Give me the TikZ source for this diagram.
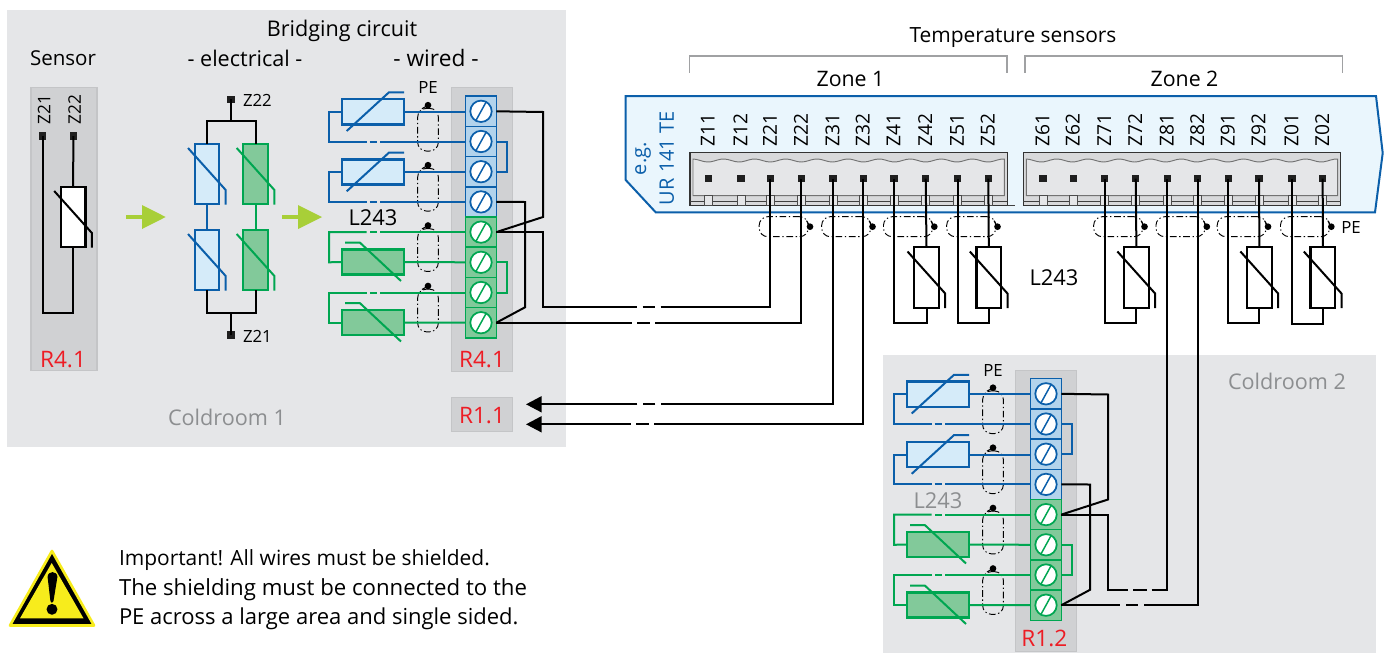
\documentclass[tikz,border=0pt]{standalone}
\usepackage{fontspec}
\setmainfont{Open Sans}
\usetikzlibrary{arrows.meta,calc}
\definecolor{roomgray}{HTML}{E5E6E8}
\definecolor{panelgray}{HTML}{D0D1D3}
\definecolor{panelline}{HTML}{C4C5C7}
\definecolor{bluewire}{HTML}{0B5FAA}
\definecolor{bluefill}{HTML}{D5EBF9}
\definecolor{blueterm}{HTML}{B2D3EC}
\definecolor{greenwire}{HTML}{00A651}
\definecolor{greenfill}{HTML}{82C99A}
\definecolor{redtext}{HTML}{ED1C24}
\definecolor{graytext}{HTML}{8C8E90}
\definecolor{arrowgreen}{HTML}{A8CF38}
\definecolor{platefill}{HTML}{EAF6FD}
\definecolor{warnyellow}{HTML}{F7EC1C}
\definecolor{connfill}{HTML}{D8D9DB}
\definecolor{bracketgray}{HTML}{A0A1A3}
\newcommand\fsA{\fontsize{16.2}{19}\selectfont}
\newcommand\fsB{\fontsize{16.4}{19}\selectfont}
\newcommand\fsZ{\fontsize{14.4}{17}\selectfont}
\newcommand\fsN{\fontsize{16.3}{19}\selectfont}
\newcommand\fsS{\fontsize{12.6}{15}\selectfont}
\newcommand\fsR{\fontsize{17}{20}\selectfont}
\tikzset{
  x=0.75pt,y=-0.75pt,
  wire/.style={line width=1.5pt,draw=black,line cap=butt,line join=miter},
  room/.style={fill=roomgray,draw=none,inner sep=0pt,outer sep=0pt},
  panel/.style={fill=panelgray,draw=panelline,line width=0.8pt,inner sep=0pt,outer sep=0pt},
  termpin/.style={fill=black!88,draw=none,minimum size=5.4pt,inner sep=0pt,outer sep=0pt},
  thermv/.style={draw,line width=1.6pt,minimum width=18.5pt,minimum height=45.4pt,inner sep=0pt,outer sep=0pt},
  thermh/.style={draw,line width=1.9pt,minimum width=46.5pt,minimum height=19pt,inner sep=0pt,outer sep=0pt},
  cell/.style={draw,line width=1.1pt,minimum width=23pt,minimum height=22.65pt,inner sep=0pt,outer sep=0pt},
  shieldbox/.style={draw=black,line width=0.7pt,dash pattern=on 5pt off 2pt on 1pt off 2pt,rounded corners=6.5pt,inner sep=0pt,outer sep=0pt},
  shieldv/.style={shieldbox,minimum width=15.5pt,minimum height=32pt},
  shieldh/.style={shieldbox,minimum width=36.8pt,minimum height=15pt},
  shielddot/.style={circle,fill=black,draw=none,minimum size=5pt,inner sep=0pt,outer sep=0pt},
  lbl/.style={inner sep=0pt,outer sep=0pt,text=black},
  redlbl/.style={inner sep=0pt,outer sep=0pt,text=redtext,font=\fsR},
  graylbl/.style={inner sep=0pt,outer sep=0pt,text=graytext,font=\fsA},
  zlbl/.style={inner sep=0pt,outer sep=0pt,rotate=90,anchor=west,font=\fsZ},
  zsmall/.style={inner sep=0pt,outer sep=0pt,rotate=90,anchor=west,font=\fontsize{13}{15}\selectfont},
  hint/.style={draw=arrowgreen,line width=3.6pt},
  hinthead/.style={fill=arrowgreen,draw=none},
}
\newcommand\thermoV[5]{%
  \node[thermv,draw=#4,fill=#5] (#1) at (#2,#3) {};
  \draw[line width=1.5pt,draw=#4,line join=miter] ($(#1.center)+(-19,-26)$) -- ($(#1.center)+(18.7,16)$) -- ($(#1.center)+(18.7,30.5)$);
}
\newcommand\thermoB[2]{%
  \node[thermh,draw=bluewire,fill=bluefill] (#1) at #2 {};
  \draw[line width=1.5pt,draw=bluewire] ($(#1.center)+(-26.3,19.3)$) -- ($(#1.center)+(16,-19.4)$) -- ($(#1.center)+(31,-19.4)$);
}
\newcommand\thermoG[2]{%
  \node[thermh,draw=greenwire,fill=greenfill] (#1) at #2 {};
  \draw[line width=1.5pt,draw=greenwire] ($(#1.center)+(-28,-19.3)$) -- ($(#1.center)+(-13,-19.3)$) -- ($(#1.center)+(28,19)$);
}
\newcommand\termcell[4]{%
  \node[cell,draw=#3,fill=#4] (#1) at (481,#2) {};
  \draw[draw=#3,fill=white,line width=1.3pt] (#1.center) circle (10.7);
  \draw[draw=#3,line width=1.1pt] ($(#1.center)+(-5.5,10)$) -- ($(#1.center)+(5.5,-10)$);
}
\newcommand\wiredblock[9]{%
\begin{scope}[shift={#2}]
  \node[panel,minimum width=45.7pt,minimum height=#5pt] (#1bar) at (#8,#4) {};
  \node[lbl,font=\fsB,text=#3] (#1L) at (373,218) {L243};
  \node[lbl,font=\fsS] (#1PE) at (428,88) {PE};
  \foreach \n/\y in {a/129.7,b/189.7,c/250,d/310.5}{
    \node[shieldv] (#1S\n) at (428,\y) {};
    \node[shielddot] (#1D\n) at (428,\y-24.5) {};
    \draw[line width=0.8pt] (#1D\n.center) -- ++(-6,3.5);
  }
  \thermoB{#1RA}{(373,111.7)}
  \thermoB{#1RB}{(373,172)}
  \thermoG{#1RC}{(373,262)}
  \thermoG{#1RD}{(373,322.5)}
  \termcell{#1T1}{111.3}{bluewire}{blueterm}
  \termcell{#1T2}{141.5}{bluewire}{blueterm}
  \termcell{#1T3}{171.7}{bluewire}{blueterm}
  \termcell{#1T4}{201.9}{bluewire}{blueterm}
  \termcell{#1T5}{232.1}{greenwire}{greenfill}
  \termcell{#1T6}{262.3}{greenwire}{greenfill}
  \termcell{#1T7}{292.5}{greenwire}{greenfill}
  \termcell{#1T8}{322.7}{greenwire}{greenfill}
  \begin{scope}[line width=1.5pt,line join=miter]
    \draw[draw=bluewire] (#1RA.east) -- (#1T1.west |- #1RA.east);
    \draw[draw=bluewire] (#1RA.west) -- (329,111.7) -- (329,141.5) -- (366.7,141.5);
    \draw[draw=bluewire] (369.5,141.5) -- (376.7,141.5);
    \draw[draw=bluewire] (380,141.5) -- (#1T2.west);
    \draw[draw=bluewire] (#1T2.east) -- (506.7,141.5) -- (506.7,171.7) -- (#1T3.east);
    \draw[draw=bluewire] (#1RB.east) -- (#1T3.west |- #1RB.east);
    \draw[draw=bluewire] (#1RB.west) -- (329,172) -- (329,201.9) -- (366.7,201.9);
    \draw[draw=bluewire] (369.5,201.9) -- (376.7,201.9);
    \draw[draw=bluewire] (380,201.9) -- (#1T4.west);
    \draw[draw=greenwire] (#1T5.west) -- (380,232.1);
    \draw[draw=greenwire] (376.7,232.1) -- (369.5,232.1);
    \draw[draw=greenwire] (366.7,232.1) -- (329,232.1) -- (329,262.3) -- (#1RC.west);
    \draw[draw=greenwire] (#1RC.east) -- (#1T6.west);
    \draw[draw=greenwire] (#1T6.east) -- (506.7,262.3) -- (506.7,292.5) -- (#1T7.east);
    \draw[draw=greenwire] (#1T7.west) -- (380,292.5);
    \draw[draw=greenwire] (376.7,292.5) -- (369.5,292.5);
    \draw[draw=greenwire] (366.7,292.5) -- (329,292.5) -- (329,322.5) -- (#1RD.west);
    \draw[draw=greenwire] (#1RD.east) -- (#1T8.west);
  \end{scope}
  \draw[wire] (#1T1.east) -- (543,112) -- (543,217) -- (#1T5.east);
  \draw[wire] (#1T4.east) -- (525,202) -- (525,307.3) -- (#1T8.east);
  \node[redlbl] (#1lab) at (#9,#7) {#6};
\end{scope}
}
\newcommand\connbody[2]{%
  \node[draw=black!80,fill=connfill,line width=1.1pt,minimum width=238pt,minimum height=39.4pt,inner sep=0pt,outer sep=0pt,anchor=north west] (#1) at (#2,152.7) {};
  \filldraw[draw=black!55,fill=roomgray,line width=0.7pt] (#2+3,195.7) -- (#2+3,160)
     -- plot[smooth,domain=#2+3:#2+314.3,samples=90] (\x,{160.5+1.5*cos(360*((\x-#2-18)/31.1))})
     -- (#2+314.3,195.7) -- cycle;
  \draw[draw=black!75,line width=1pt] (#2,201.3) -- (#2+317.3,201.3);
}
\newcommand\pinbox[1]{%
  \path[fill=roomgray,draw=black!70,line width=0.6pt] (#1-4,195.7) rectangle (#1+4,205.3);
}
\begin{document}
\begin{tikzpicture}
\useasboundingbox (0,0) rectangle (1387,653);
\fill[white] (0,0) rectangle (1387,653);
\node[room,anchor=north west,minimum width=419.2pt,minimum height=327.8pt] (room1) at (7,10) {};
\node[room,anchor=north west,minimum width=369.8pt,minimum height=223.5pt] (room2) at (882.5,355) {};
\node[graylbl] (room1lab) at (227,417) {Coldroom 1};
\node[graylbl] (room2lab) at (1287,381) {Coldroom 2};
\node[panel,anchor=north west,minimum width=49.5pt,minimum height=212.7pt] (sensorpanel) at (31,87.3) {};
\node[lbl,font=\fontsize{15.4}{18}\selectfont] (sensorlab) at (63,58) {Sensor};
\node[lbl,font=\fsA] (bridgelab) at (342,31) {Bridging circuit};
\node[lbl,font=\fsA] (eleclab) at (245,58) {- electrical -};
\node[lbl,font=\fontsize{17}{20}\selectfont] (wiredlab) at (436,58) {- wired -};
\node[zsmall] (z21s) at (44,124) {Z21};
\node[zsmall] (z22s) at (74.7,124) {Z22};
\node[termpin] (s21) at (42.5,136) {};
\node[termpin] (s22) at (73.3,136) {};
\thermoV{srt}{73.2}{217}{black}{white}
\draw[wire] (s22.center) -- (srt.north);
\draw[wire] (s21.center) -- (42.5,313.3) -- (73.2,313.3) -- (srt.south);
\node[redlbl] (r41a) at (63,360) {R4.1};
\node[termpin] (e22) at (231,99.3) {};
\node[termpin] (e21) at (231,335) {};
\node[lbl,font=\fsS,anchor=west] (e22lab) at (243,100) {Z22};
\node[lbl,font=\fsS,anchor=west] (e21lab) at (243,336) {Z21};
\thermoV{ea}{207}{174}{bluewire}{bluefill}
\thermoV{eb}{207}{260}{bluewire}{bluefill}
\thermoV{ec}{255.7}{174}{greenwire}{greenfill}
\thermoV{ed}{255.7}{260}{greenwire}{greenfill}
\draw[line width=1.5pt,draw=bluewire] (ea.south) -- (eb.north);
\draw[line width=1.5pt,draw=greenwire] (ec.south) -- (ed.north);
\draw[wire] (e22.center) -- (231,120.7);
\draw[wire] (ea.north) -- (207,120.7) -- (255.7,120.7) -- (ec.north);
\draw[wire] (e21.center) -- (231,313.3);
\draw[wire] (eb.south) -- (207,313.3) -- (255.7,313.3) -- (ed.south);
\coordinate (ha) at (126,217);
\coordinate (hb) at (282,217);
\draw[hint] (ha) -- ++(18,0);
\fill[hinthead] (142,205) -- (165.7,217) -- (142,229) -- cycle;
\draw[hint] (hb) -- ++(18,0);
\fill[hinthead] (298,205) -- (322,217) -- (298,229) -- cycle;
\wiredblock{A}{(0,0)}{black}{229.5}{213.3}{R4.1}{360}{482}{482}
\wiredblock{B}{(565,282.5)}{graytext}{228.5}{210.3}{R1.2}{355.5}{480.8}{479.3}
\node[panel,minimum width=45.7pt,minimum height=25.5pt] (r11box) at (482,414.7) {};
\node[redlbl] (r11) at (482,416) {R1.1};
\filldraw[draw=bluewire,fill=platefill,line width=1.5pt,line join=miter] (625.7,96) -- (1376,96) -- (1382.7,153) -- (1375,212.3) -- (655.7,212.3) -- (625.7,180) -- cycle;
\node[zlbl,text=bluewire,font=\fontsize{15}{17}\selectfont] (eg) at (643,175) {e.g.};
\node[zlbl,text=bluewire,font=\fontsize{15}{17}\selectfont] (ur) at (666.7,205) {UR 141 TE};
\connbody{conn1}{690}
\connbody{conn2}{1023.3}
\draw[draw=black!75,line width=1pt] (1007,205.3) -- (1015,205.3);
\draw[draw=bracketgray,line width=1pt] (689.7,72.7) -- (689.7,56) -- (1007,56) -- (1007,72.7);
\draw[draw=bracketgray,line width=1pt] (1025,72.7) -- (1025,56) -- (1342.3,56) -- (1342.3,72.7);
\node[lbl,font=\fontsize{15.7}{18}\selectfont] (templab) at (1013,38) {Temperature sensors};
\node[lbl,font=\fontsize{16}{19}\selectfont] (zone1) at (850.5,79) {Zone 1};
\node[lbl,font=\fontsize{16}{19}\selectfont] (zone2) at (1184.5,79) {Zone 2};
\foreach \n/\x/\t in {P11/708.3/Z11,P12/741/Z12,P21/770.3/Z21,P22/801.3/Z22,P31/833/Z31,P32/863.3/Z32,P41/894/Z41,P42/925.7/Z42,P51/957.7/Z51,P52/988.3/Z52,P61/1043/Z61,P62/1073.3/Z62,P71/1104.7/Z71,P72/1135.7/Z72,P81/1167.3/Z81,P82/1197.7/Z82,P91/1228.3/Z91,P92/1259/Z92,P01/1292/Z01,P02/1322.7/Z02}{
  \pinbox{\x}
  \node[termpin] (\n) at (\x,178.7) {};
  \node[zlbl] (\n lab) at (\x-0.5,146.7) {\t};
}
\foreach \n/\x in {a/783.7,b/846.2,c/908,d/971.2,e/1118.2,f/1180.5,g/1241.7,h/1305}{
  \node[shieldh] (H\n) at (\x,226.7) {};
  \node[shielddot] (HD\n) at (\x+26.3,226.7) {};
  \draw[line width=0.8pt] (HD\n.center) -- ++(-3.5,-6);
}
\node[lbl,font=\fsS] (pelab) at (1351,227) {PE};
\node[lbl,font=\fsB] (L243r) at (1054,278) {L243};
\thermoV{t4}{926.5}{277.5}{black}{white}
\thermoV{t5}{988.8}{277.5}{black}{white}
\thermoV{t7}{1136.4}{277.5}{black}{white}
\thermoV{t9}{1259.4}{277.5}{black}{white}
\thermoV{t0}{1322.8}{277.5}{black}{white}
\foreach \a/\b/\t/\yy in {P41/P42/t4/323,P51/P52/t5/323,P71/P72/t7/323,P91/P92/t9/323,P01/P02/t0/323.7}{
  \draw[wire] (\b.center) -- (\t.north);
  \draw[wire] (\a.center) -- (\a |- 0,\yy) -- (\t.south |- 0,\yy) -- (\t.south);
}
\draw[wire] (AT5.east) -- (543,232.1) -- (543,307.3) -- (637,307.3);
\draw[wire] (642.7,307.3) -- (655.3,307.3);
\draw[wire] (660.7,307.3) -- (770.3,307.3) -- (P21.center);
\draw[wire] (AT8.east) -- (631.7,322.7);
\draw[wire] (637,322.7) -- (650,322.7);
\draw[wire] (655.3,322.7) -- (801.3,322.7) -- (P22.center);
\coordinate (tipa) at (526,404.3);
\coordinate (tipb) at (526,424.3);
\draw[wire] (P31.center) -- (833,404.3) -- (661.3,404.3);
\draw[wire] (655.3,404.3) -- (643.3,404.3);
\draw[wire,-{Triangle[length=11.8pt,width=12pt]}] (637.3,404.3) -- (tipa);
\draw[wire] (P32.center) -- (863.3,424.3) -- (654,424.3);
\draw[wire] (648.7,424.3) -- (636,424.3);
\draw[wire,-{Triangle[length=11.8pt,width=12pt]}] (630.7,424.3) -- (tipb);
\draw[wire] (BT5.east) -- (1108,514.6) -- (1108,590) -- (1128.3,590);
\draw[wire] (1133.3,590) -- (1146.7,590);
\draw[wire] (1151.7,590) -- (1167.3,590) -- (P81.center);
\draw[wire] (BT8.east) -- (1120,605.2);
\draw[wire] (1126,605.2) -- (1138,605.2);
\draw[wire] (1144,605.2) -- (1197.7,605.2) -- (P82.center);
\filldraw[fill=black,draw=warnyellow,line width=2pt,line join=round] (52,551) -- (94,625.5) -- (10,625.5) -- cycle;
\fill[warnyellow] (51.7,563) -- (83.5,618.3) -- (20,618.3) -- cycle;
\fill[black] (47.6,577) .. controls (47.6,570.5) and (57.4,570.5) .. (57.4,577) -- (53.5,601) .. controls (53,603.5) and (50.8,603.5) .. (50.4,601) -- cycle;
\node[circle,fill=black,minimum size=8.2pt,inner sep=0pt,outer sep=0pt] (warndot) at (52,609.3) {};
\node[lbl,font=\fontsize{15.7}{19}\selectfont,anchor=west] (note1) at (119,560) {Important! All wires must be shielded.};
\node[lbl,font=\fontsize{16.65}{19}\selectfont,anchor=west] (note2) at (119,590) {The shielding must be connected to the};
\node[lbl,font=\fontsize{16.5}{19}\selectfont,anchor=west] (note3) at (119,619) {PE across a large area and single sided.};
\end{tikzpicture}
\end{document}
